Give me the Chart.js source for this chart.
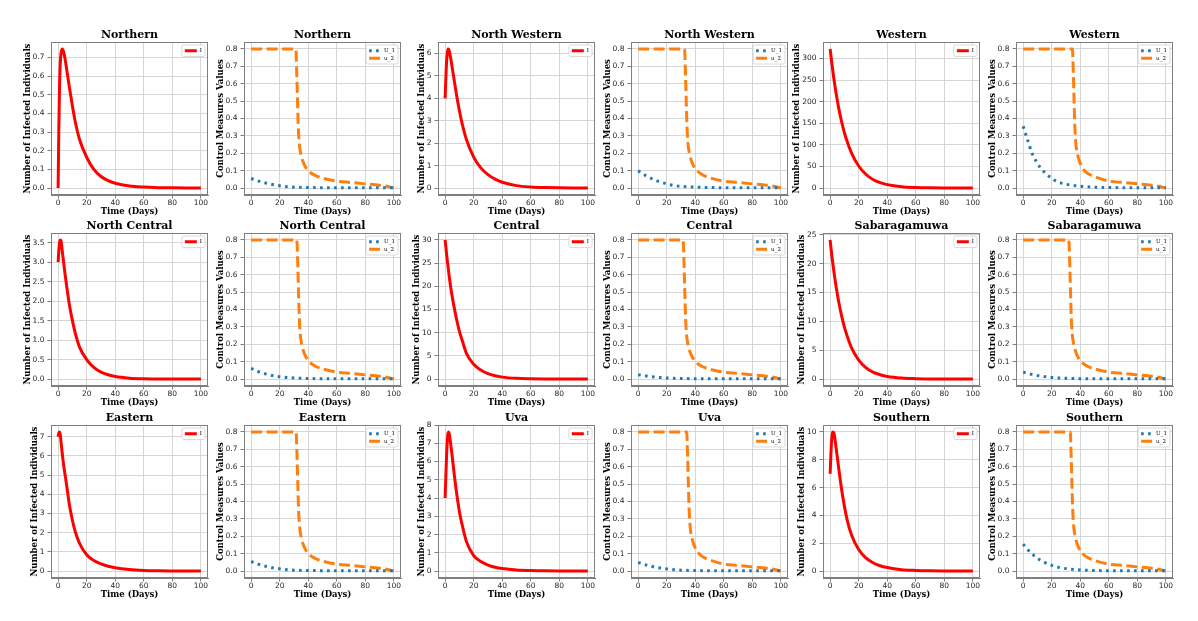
<!DOCTYPE html>
<html><head><meta charset="utf-8">
<script src="https://cdn.jsdelivr.net/npm/chart.js@4.4.1/dist/chart.umd.min.js"></script>
<style>
html,body{margin:0;padding:0;background:#fff;}
#fig{position:relative;width:1198px;height:621px;overflow:hidden;background:#fff;}
#fig canvas{position:absolute;}
</style></head><body><div id="fig"></div>
<script>
// ---------- data ----------
const regions = ['Northern','North Western','Western','North Central','Central','Sabaragamuwa','Eastern','Uva','Southern'];
const timeI  = [0,0.5,1,1.5,2,2.5,3,4,5,6,8,10,12,15,20,25,30,35,40,50,60,70,80,90,100];
const timeU1 = [0,3,6,9,12,15,20,25,30,40,50,60,70,80,90,100];

const northernI     = [0,0.33,0.55,0.67,0.72,0.74,0.745,0.725,0.685,0.635,0.535,0.44,0.355,0.26,0.165,0.1,0.062,0.04,0.026,0.011,0.005,0.002,0.001,0.0005,0.0003];
const northWesternI = [4.0,4.9,5.6,6.0,6.2,6.18,6.08,5.75,5.35,4.95,4.15,3.45,2.85,2.15,1.38,0.9,0.6,0.4,0.26,0.11,0.05,0.025,0.012,0.006,0.003];
const westernI      = [322,308,294,281,268,256,245,223,203,185,154,128,107,81,51,32,20,12.5,8,3.2,1.3,0.5,0.2,0.1,0.05];
const northCentralI = [3.0,3.3,3.5,3.57,3.55,3.42,3.25,2.95,2.65,2.38,1.88,1.5,1.18,0.82,0.5,0.3,0.18,0.11,0.065,0.024,0.009,0.004,0.002,0.001,0.0005];
const centralI      = [30,28.5,27.0,25.6,24.3,23.0,21.8,19.6,17.7,16.0,12.9,10.3,8.3,5.5,3.2,1.95,1.15,0.7,0.42,0.16,0.065,0.03,0.015,0.007,0.004];
const sabaragamuwaI = [24.1,22.9,21.8,20.8,19.8,18.9,18.0,16.3,14.8,13.4,11.0,9.0,7.4,5.4,3.3,2.0,1.2,0.75,0.45,0.17,0.07,0.03,0.015,0.008,0.004];
const easternI      = [7.0,7.2,7.25,7.1,6.75,6.4,6.05,5.45,4.95,4.45,3.4,2.65,2.05,1.45,0.85,0.55,0.37,0.25,0.17,0.08,0.035,0.016,0.008,0.004,0.002];
const uvaI          = [4.0,5.2,6.3,7.1,7.55,7.62,7.45,6.9,6.25,5.55,4.3,3.25,2.5,1.6,0.85,0.52,0.33,0.21,0.14,0.06,0.03,0.015,0.008,0.004,0.002];
const southernI     = [7.0,8.3,9.3,9.85,10.0,9.95,9.75,9.0,8.2,7.4,5.9,4.65,3.65,2.6,1.55,0.95,0.6,0.38,0.25,0.1,0.045,0.02,0.01,0.005,0.002];

const northernU1     = [0.055,0.046,0.038,0.031,0.025,0.02,0.013,0.008,0.005,0.003,0.002,0.001,0.001,0.001,0.001,0.001];
const northWesternU1 = [0.1,0.083,0.068,0.056,0.045,0.036,0.024,0.015,0.01,0.005,0.003,0.002,0.001,0.001,0.001,0.001];
const westernU1      = [0.355,0.28,0.205,0.155,0.118,0.09,0.055,0.034,0.022,0.01,0.005,0.003,0.002,0.001,0.001,0.001];
const northCentralU1 = [0.062,0.05,0.04,0.032,0.026,0.02,0.013,0.009,0.006,0.003,0.002,0.001,0.001,0.001,0.001,0.001];
const centralU1      = [0.025,0.021,0.017,0.014,0.011,0.009,0.006,0.004,0.003,0.002,0.001,0.001,0.001,0.001,0.001,0.001];
const sabaragamuwaU1 = [0.04,0.033,0.027,0.022,0.018,0.014,0.009,0.006,0.004,0.002,0.001,0.001,0.001,0.001,0.001,0.001];
const easternU1      = [0.055,0.045,0.037,0.03,0.024,0.019,0.013,0.008,0.005,0.003,0.002,0.001,0.001,0.001,0.001,0.001];
const uvaU1          = [0.05,0.041,0.034,0.028,0.022,0.018,0.012,0.008,0.005,0.003,0.002,0.001,0.001,0.001,0.001,0.001];
const southernU1     = [0.155,0.125,0.1,0.08,0.063,0.05,0.033,0.021,0.014,0.006,0.003,0.002,0.001,0.001,0.001,0.001];

const u2Values = [0.8,0.8,0.65,0.5,0.36,0.28,0.235,0.19,0.16,0.13,0.1,0.072,0.057,0.04,0.032,0.024,0.016,0.01,0];
const northernU2T     = [0,31.3,32,32.5,33,33.5,34,35,36,37.5,40,45,50,60,70,80,90,95,100];
const northWesternU2T = [0,32.5,33.2,33.7,34.2,34.7,35.2,36.2,37.2,38.7,41.2,46,51,60,70,80,90,95,100];
const westernU2T      = [0,34.5,35.2,35.7,36.2,36.7,37.2,38.2,39.2,40.7,43,48,53,60,70,80,90,95,100];
const northCentralU2T = [0,32,32.7,33.2,33.7,34.2,34.7,35.7,36.7,38.2,40.7,45.5,50.5,60,70,80,90,95,100];
const centralU2T      = [0,31.5,32.2,32.7,33.2,33.7,34.2,35.2,36.2,37.7,40.2,45,50,60,70,80,90,95,100];
const sabaragamuwaU2T = [0,32,32.7,33.2,33.7,34.2,34.7,35.7,36.7,38.2,40.7,45.5,50.5,60,70,80,90,95,100];
const easternU2T      = [0,31.5,32.2,32.7,33.2,33.7,34.2,35.2,36.2,37.7,40.2,45,50,60,70,80,90,95,100];
const uvaU2T          = [0,34,34.7,35.2,35.7,36.2,36.7,37.7,38.7,40.2,42.7,47.5,52.5,60,70,80,90,95,100];
const southernU2T     = [0,33,33.7,34.2,34.7,35.2,35.7,36.7,37.7,39.2,41.7,46.5,51.5,60,70,80,90,95,100];

const infectedSeries = [northernI,northWesternI,westernI,northCentralI,centralI,sabaragamuwaI,easternI,uvaI,southernI];
const u1Series = [northernU1,northWesternU1,westernU1,northCentralU1,centralU1,sabaragamuwaU1,easternU1,uvaU1,southernU1];
const u2Times = [northernU2T,northWesternU2T,westernU2T,northCentralU2T,centralU2T,sabaragamuwaU2T,easternU2T,uvaU2T,southernU2T];
const infectedTickSteps = [0.1,1,50,0.5,5,5,1,1,2];
const controlTickStep = 0.1;
const xTicks = [0,20,40,60,80,100];

// ---------- layout ----------
const colLefts = [51,244,438,631,823,1016];
const rowTops = [42,233,425];
const PW = 157, PH = 153, L = 50, T = 22, R = 12, B = 30;
const TICK_PX = 7.5, AXT_PX = 8.5;

const fig = document.getElementById('fig');
const mctx = document.createElement('canvas').getContext('2d');
mctx.font = TICK_PX + 'px "DejaVu Sans"';

const framePlugin = {
  id: 'frame',
  afterDatasetsDraw(chart) {
    const {ctx, chartArea: a} = chart;
    ctx.save();
    ctx.strokeStyle = '#7f7f7f';
    ctx.lineWidth = 1;
    ctx.strokeRect(a.left + 0.5, a.top + 0.5, a.right - a.left - 1, a.bottom - a.top - 1);
    ctx.restore();
  }
};
const titlePlugin = {
  id: 'panelTitle',
  afterDraw(chart, args, opts) {
    const {ctx, chartArea: a} = chart;
    ctx.save();
    ctx.font = 'bold 11px "DejaVu Serif"';
    ctx.fillStyle = '#000';
    ctx.textAlign = 'center';
    ctx.textBaseline = 'middle';
    ctx.fillText(opts.text, (a.left + a.right) / 2, a.top - 7);
    ctx.restore();
  }
};
const legendPlugin = {
  id: 'innerLegend',
  afterDraw(chart) {
    const {ctx, chartArea: a} = chart;
    const ds = chart.data.datasets;
    ctx.save();
    ctx.font = '5.5px "DejaVu Serif"';
    let tw = 0;
    ds.forEach(d => { tw = Math.max(tw, ctx.measureText(d.label).width); });
    const sw = 12, rowH = 7.5;
    const w = 3 + sw + 3 + tw + 3;
    const h = ds.length * rowH + 4;
    const x = a.right - 3 - w, y = a.top + 3;
    ctx.fillStyle = 'rgba(255,255,255,0.85)';
    ctx.strokeStyle = '#d0d0d0';
    ctx.lineWidth = 0.8;
    ctx.beginPath();
    if (ctx.roundRect) ctx.roundRect(x, y, w, h, 2); else ctx.rect(x, y, w, h);
    ctx.fill(); ctx.stroke();
    ds.forEach((d, i) => {
      const cy = y + 2 + rowH * i + rowH / 2;
      ctx.strokeStyle = d.borderColor;
      ctx.lineWidth = d.borderWidth;
      ctx.setLineDash(d.borderDash || []);
      ctx.beginPath();
      ctx.moveTo(x + 3, cy); ctx.lineTo(x + 3 + sw, cy);
      ctx.stroke();
      ctx.setLineDash([]);
      ctx.fillStyle = '#000';
      ctx.textBaseline = 'middle';
      ctx.fillText(d.label, x + 3 + sw + 3, cy);
    });
    ctx.restore();
  }
};

function pts(t, v) { return t.map((x, i) => ({x: x, y: v[i]})); }

function makePanel(col, row, title, datasets, yLabel, step) {
  const c = document.createElement('canvas');
  const w = L + PW + R, h = T + PH + B;
  c.width = w; c.height = h;
  c.style.left = (colLefts[col] - L) + 'px';
  c.style.top = (rowTops[row] - T) + 'px';
  c.style.width = w + 'px'; c.style.height = h + 'px';
  fig.appendChild(c);
  let lo = Infinity, hi = -Infinity;
  datasets.forEach(d => d.data.forEach(p => { lo = Math.min(lo, p.y); hi = Math.max(hi, p.y); }));
  const m = (hi - lo) * 0.05;
  const dec = step < 1 ? 1 : 0;
  let lw = 0;
  for (let v = Math.ceil((lo - m) / step) * step; v <= hi + m + 1e-9; v += step) {
    lw = Math.max(lw, mctx.measureText(Math.abs(v) < 1e-9 ? (0).toFixed(dec) : v.toFixed(dec)).width);
  }
  const titleLH = AXT_PX * 1.2;
  const yTitlePad = Math.max(0, L - lw - 11.5 - titleLH / 2);
  const tickFont = {family: '"DejaVu Sans"', size: TICK_PX};
  const titleFont = {family: '"DejaVu Serif"', size: AXT_PX, weight: 'bold'};
  new Chart(c, {
    type: 'line',
    data: {datasets: datasets},
    options: {
      responsive: false, animation: false, devicePixelRatio: 1,
      layout: {padding: {top: T, right: R, bottom: 0, left: 0}},
      elements: {point: {radius: 0}, line: {cubicInterpolationMode: 'monotone'}},
      plugins: {legend: {display: false}, tooltip: {enabled: false}, panelTitle: {text: title}},
      scales: {
        x: {
          type: 'linear', min: -5, max: 105,
          afterBuildTicks: s => { s.ticks = xTicks.map(v => ({value: v})); },
          ticks: {autoSkip: false, maxRotation: 0, font: tickFont, color: '#262626', padding: 0},
          grid: {color: '#d6d6d6', lineWidth: 1, tickLength: 3.5, tickColor: '#7f7f7f'},
          border: {color: '#7f7f7f'},
          title: {display: true, text: 'Time (Days)', font: titleFont, color: '#000', padding: {top: 0, bottom: 8}},
          afterFit: s => { s.height = B; }
        },
        y: {
          type: 'linear', min: lo - m, max: hi + m,
          ticks: {stepSize: step, includeBounds: false, autoSkip: false, font: tickFont, color: '#262626', padding: 3,
                  callback: v => (Math.abs(v) < 1e-9 ? 0 : Number(v)).toFixed(dec)},
          grid: {color: '#d6d6d6', lineWidth: 1, tickLength: 3.5, tickColor: '#7f7f7f'},
          border: {color: '#7f7f7f'},
          title: {display: true, text: yLabel, font: titleFont, color: '#000', padding: {top: yTitlePad, bottom: 0}},
          afterFit: s => { s.width = L; }
        }
      }
    },
    plugins: [framePlugin, legendPlugin, titlePlugin]
  });
}

regions.forEach((name, i) => {
  const row = Math.floor(i / 3);
  const colI = (i % 3) * 2;
  makePanel(colI, row, name, [
    {label: 'I', data: pts(timeI, infectedSeries[i]), borderColor: '#ff0000', borderWidth: 3, fill: false}
  ], 'Number of Infected Individuals', infectedTickSteps[i]);
  makePanel(colI + 1, row, name, [
    {label: 'U_1', data: pts(timeU1, u1Series[i]), borderColor: '#1f77b4', borderWidth: 3, borderDash: [2.6, 4.4], fill: false},
    {label: 'u_2', data: pts(u2Times[i], u2Values), borderColor: '#ff7f0e', borderWidth: 3, borderDash: [11, 4.5], fill: false}
  ], 'Control Measures Values', controlTickStep);
});
</script></body></html>
